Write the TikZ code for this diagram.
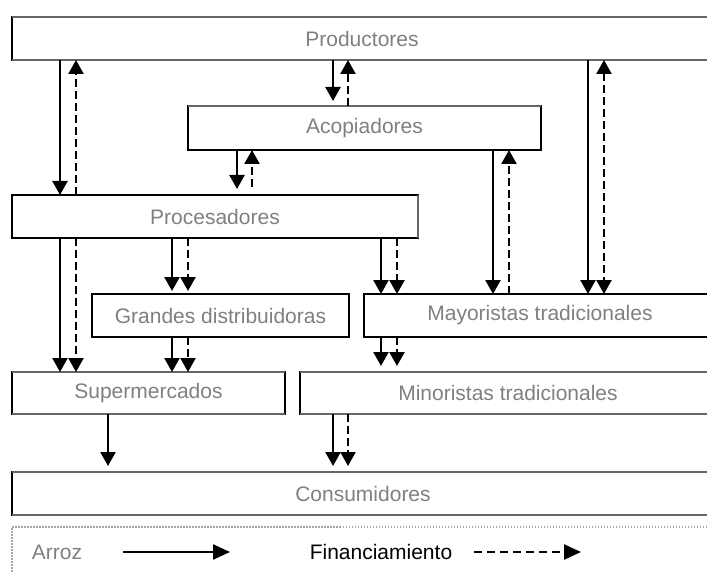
\documentclass[tikz,border=0pt]{standalone}
\usepackage{fontspec}
\setmainfont{Liberation Sans}
\usetikzlibrary{arrows.meta}
\begin{document}
\begin{tikzpicture}[x=1pt,y=-1pt,
  >={Triangle[width=15pt,length=14pt]},
  box/.style={draw=black, line width=2.4pt, anchor=north west, inner sep=0pt,
    outer sep=0pt, text=black!50, font=\fontsize{21}{24}\selectfont},
  dith/.style={draw=black!60, line width=2.4pt},
  flow/.style={line width=2.4pt, ->},
  fin/.style={line width=2.4pt, ->, dash pattern=on 8pt off 4pt},
]
\clip (0,0) rectangle (707,572);
\fill[white] (0,0) rectangle (707,572);

% actors of the chain
\node[box, minimum width=700pt, minimum height=43pt] (prod)  at (12,17)  {Productores};
\node[box, minimum width=353pt, minimum height=44pt] (acop)  at (188,106) {Acopiadores};
\node[box, minimum width=406pt, minimum height=43pt] (proc)  at (12,195) {Procesadores};
\node[box, minimum width=257pt, minimum height=43pt] (grand) at (92,294) {Grandes distribuidoras};
\node[box, minimum width=352pt, minimum height=43pt] (mayo)  at (364,294) {Mayoristas tradicionales};
\node[box, minimum width=273pt, minimum height=42pt] (super) at (12,372) {Supermercados};
\node[box, minimum width=416pt, minimum height=42pt] (mino)  at (300,372) {Minoristas tradicionales};
\node[box, minimum width=702pt, minimum height=43pt] (cons)  at (12,472) {Consumidores};

% lighter (screened) box edges
\draw[dith] (prod.north west) -- (prod.north east);
\draw[dith] (prod.south west) -- (prod.south east);
\draw[dith] (acop.north west) -- (acop.north east);
\draw[dith] (proc.north east) -- (proc.south east);
\draw[dith] (super.north west) -- (super.north east);
\draw[dith] (super.south west) -- (super.south east);
\draw[dith] (mino.north west) -- (mino.north east);
\draw[dith] (mino.south west) -- (mino.south east);
\draw[dith] (cons.north west) -- (cons.north east);
\draw[dith] (cons.south west) -- (cons.south east);

% Productores <-> Procesadores
\draw[flow] (prod.south -| 60,0) -- (proc.north -| 60,0);
\draw[fin]  (proc.north -| 76,0) -- (prod.south -| 76,0);
% Productores <-> Acopiadores
\draw[flow, shorten >=5pt] (prod.south -| 333,0) -- (acop.north -| 333,0);
\draw[fin]  (acop.north -| 348,0) -- (prod.south -| 348,0);
% Acopiadores <-> Procesadores
\draw[flow, shorten >=6pt] (acop.south -| 237,0) -- (proc.north -| 237,0);
\draw[fin, shorten <=8pt]  (proc.north -| 252,0) -- (acop.south -| 252,0);
% Acopiadores <-> Mayoristas
\draw[flow] (acop.south -| 493,0) -- (mayo.north -| 493,0);
\draw[fin]  (mayo.north -| 509,0) -- (acop.south -| 509,0);
% Productores <-> Mayoristas
\draw[flow] (prod.south -| 588,0) -- (mayo.north -| 588,0);
\draw[fin, <->] (prod.south -| 604,0) -- (mayo.north -| 604,0);
% Procesadores -> Grandes distribuidoras
\draw[flow, shorten >=3pt] (proc.south -| 172,0) -- (grand.north -| 172,0);
\draw[fin, shorten >=3pt]  (proc.south -| 188,0) -- (grand.north -| 188,0);
% Procesadores -> Supermercados
\draw[flow] (proc.south -| 60,0) -- (super.north -| 60,0);
\draw[fin]  (proc.south -| 76,0) -- (super.north -| 76,0);
% Grandes distribuidoras -> Supermercados
\draw[flow] (grand.south -| 172,0) -- (super.north -| 172,0);
\draw[fin]  (grand.south -| 188,0) -- (super.north -| 188,0);
% Procesadores -> Mayoristas
\draw[flow] (proc.south -| 381,0) -- (mayo.north -| 381,0);
\draw[fin]  (proc.south -| 397,0) -- (mayo.north -| 397,0);
% Mayoristas -> Minoristas
\draw[flow, shorten >=6pt] (mayo.south -| 381,0) -- (mino.north -| 381,0);
\draw[fin, shorten >=6pt]  (mayo.south -| 397,0) -- (mino.north -| 397,0);
% Supermercados -> Consumidores
\draw[flow, shorten >=6pt] (super.south -| 108,0) -- (cons.north -| 108,0);
% Minoristas -> Consumidores
\draw[flow, shorten >=6pt] (mino.south -| 333,0) -- (cons.north -| 333,0);
\draw[fin, shorten >=6pt]  (mino.south -| 348,0) -- (cons.north -| 348,0);

% legend
\node[draw=black!35, line width=1.5pt, dash pattern=on 1.5pt off 1.5pt,
  anchor=north west, inner sep=0pt, outer sep=0pt,
  minimum width=720pt, minimum height=80pt] (leg) at (12,527) {};
\node[text=black!50, font=\fontsize{21}{24}\selectfont] (arroz) at (57,552) {Arroz};
\node[text=black, font=\fontsize{21}{24}\selectfont] (finan) at (381,552) {Financiamiento};
\coordinate (a1) at (123,552);
\coordinate (a2) at (230,552);
\coordinate (f1) at (474,552);
\coordinate (f2) at (581,552);
\draw[line width=2.4pt, -{Triangle[width=15pt,length=17pt]}] (a1) -- (a2);
\draw[line width=2.4pt, dash pattern=on 8pt off 5pt, -{Triangle[width=15pt,length=17pt]}] (f1) -- (f2);
\end{tikzpicture}
\end{document}
